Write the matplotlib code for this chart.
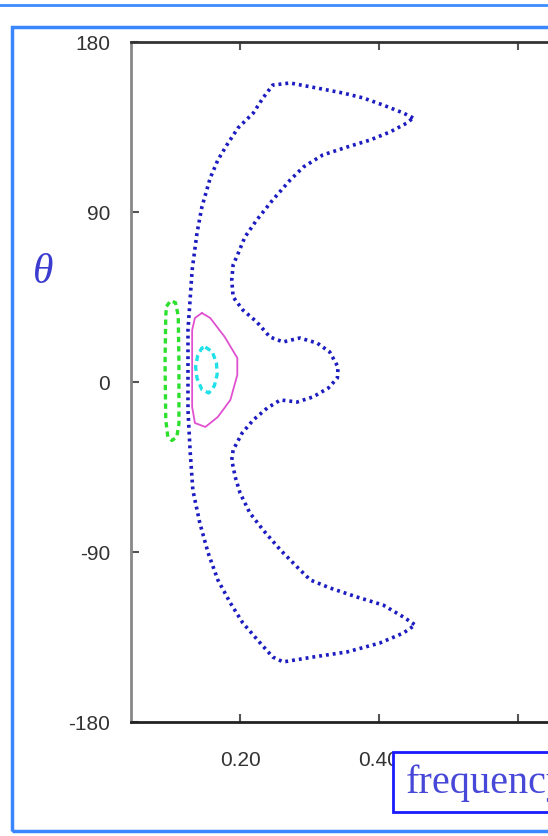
import numpy as np
import matplotlib
matplotlib.use("Agg")
import matplotlib.pyplot as plt
from matplotlib.patches import Rectangle
from matplotlib.lines import Line2D

# Contour outlines (frequency, theta in degrees)
outer_freq = [0.449, 0.435, 0.406, 0.377, 0.348, 0.311, 0.272, 0.247, 0.233,
              0.219, 0.197, 0.181, 0.168, 0.157, 0.145, 0.138, 0.131, 0.128,
              0.125, 0.125, 0.125, 0.128, 0.131, 0.132, 0.142, 0.154, 0.168,
              0.186, 0.204, 0.229, 0.247, 0.262, 0.305, 0.354, 0.401, 0.435,
              0.452, 0.435, 0.406, 0.368, 0.329, 0.301, 0.282, 0.258, 0.233,
              0.214, 0.200, 0.193, 0.188, 0.190, 0.203, 0.219, 0.239, 0.258,
              0.282, 0.305, 0.327, 0.340, 0.341, 0.329, 0.311, 0.286, 0.262,
              0.243, 0.224, 0.204, 0.190, 0.188, 0.190, 0.196, 0.207, 0.224,
              0.247, 0.272, 0.291, 0.319, 0.354, 0.387, 0.416, 0.440, 0.449]
outer_theta = [139.8, 142.4, 146.6, 150.4, 153.0, 155.6, 158.3, 157.2, 150.4,
               142.4, 134.5, 125.5, 117.5, 108.0, 92.6, 78.9, 59.3, 43.4,
               27.5, 5.3, -14.8, -36.0, -51.9, -57.2, -74.6, -90.5, -104.8,
               -117.0, -127.6, -138.2, -145.6, -148.2, -145.6, -142.9, -138.2,
               -132.9, -128.6, -124.4, -118.1, -113.8, -109.0, -104.8, -97.9,
               -88.9, -78.3, -69.3, -58.8, -50.3, -41.3, -36.0, -27.0, -20.1,
               -13.8, -9.5, -10.6, -7.9, -3.2, 2.1, 7.9, 15.9, 20.6, 23.3,
               21.2, 23.8, 31.8, 38.1, 45.0, 54.0, 62.0, 67.0, 76.8, 85.8,
               96.4, 106.9, 113.8, 120.2, 124.4, 128.1, 132.4, 137.1, 139.8]

green_freq = [0.094, 0.100, 0.107, 0.111, 0.112, 0.112, 0.109, 0.102, 0.096,
              0.093, 0.092, 0.093, 0.094]
green_theta = [40, 43, 42, 35, 10, -22, -29, -31, -29, -20, 10, 35, 40]

magenta_freq = [0.145, 0.157, 0.178, 0.196, 0.196, 0.186, 0.168, 0.150, 0.135,
                0.131, 0.131, 0.131, 0.135, 0.145]
magenta_theta = [36.5, 33.9, 23.8, 12.7, 3.7, -9.5, -18.5, -23.8, -21.7,
                 -13.2, 11.6, 27.5, 33.9, 36.5]

cyan_freq = [0.150, 0.160, 0.166, 0.167, 0.163, 0.155, 0.145, 0.138, 0.136,
             0.139, 0.145, 0.150]
cyan_theta = [18.5, 16, 10, 4, -2, -5.8, -4, 2, 8, 14, 18, 18.5]

x_ticks = [0.2, 0.4, 0.6]
x_labels = ["0.20", "0.40", "0.60"]
y_ticks = [-180, -90, 0, 90, 180]
y_labels = ["-180", "-90", "0", "90", "180"]

W, H = 548, 836
fig = plt.figure(figsize=(W / 100, H / 100), dpi=100)
fig.patch.set_facecolor("white")


def fx(px):
    return px / W


def fy(py):
    return 1 - py / H


# axes runs off the right edge of the picture
ax = fig.add_axes([fx(131), fy(722), fx(600) - fx(131), fy(42) - fy(722)])
ax.set_xlim(0.043, 0.718)
ax.set_ylim(-180, 180)

ax.plot(outer_freq, outer_theta, color="#1c1cc0", lw=2.6,
        linestyle=(0, (0.8, 1.1)))
ax.plot(green_freq, green_theta, color="#2ee02e", lw=2.4,
        linestyle=(0, (1.6, 1.2)))
ax.plot(magenta_freq, magenta_theta, color="#e050d0", lw=1.3)
ax.plot(cyan_freq, cyan_theta, color="#22e0e8", lw=2.4,
        linestyle=(0, (1.8, 1.2)))

ax.set_xticks(x_ticks)
ax.set_xticklabels(x_labels)
ax.set_yticks(y_ticks)
ax.set_yticklabels(y_labels)
ax.tick_params(axis="x", direction="in", length=6, width=1.5, top=True,
               pad=21, labelsize=15, colors="#555555")
ax.tick_params(axis="y", direction="in", length=6, width=1.5,
               pad=15, labelsize=15, colors="#555555")
for lab in ax.get_xticklabels() + ax.get_yticklabels():
    lab.set_family("Liberation Sans")
    lab.set_color("#333333")
ax.spines["right"].set_visible(False)
ax.spines["top"].set_color("#333333")
ax.spines["bottom"].set_color("#222222")
ax.spines["left"].set_color("#888888")
for s in ["top", "bottom", "left"]:
    ax.spines[s].set_linewidth(2)

fig.text(fx(43), fy(273), "θ", fontsize=30, family="Liberation Serif",
         style="italic", color="#3c3cd0", ha="center", va="center")

# blue frame lines of the surrounding page
fig.add_artist(Line2D([0, 1], [fy(5), fy(5)], color="#3a8cff", lw=2,
                      transform=fig.transFigure))
fig.add_artist(Rectangle((fx(12), fy(831)), fx(600) - fx(12), fy(27) - fy(831),
                         transform=fig.transFigure, fill=False,
                         edgecolor="#3a86ff", lw=2.5))

# frequency label box covering part of the tick labels
fig.add_artist(Rectangle((fx(393), fy(812)), fx(600) - fx(393),
                         fy(752) - fy(812), transform=fig.transFigure,
                         facecolor="white", edgecolor="#1a1aff", lw=2,
                         zorder=5))
fig.text(fx(406), fy(793), "frequency", fontsize=29, family="Liberation Serif",
         color="#4848d8", ha="left", va="baseline", zorder=6)

fig.savefig("out.png", dpi=100)
